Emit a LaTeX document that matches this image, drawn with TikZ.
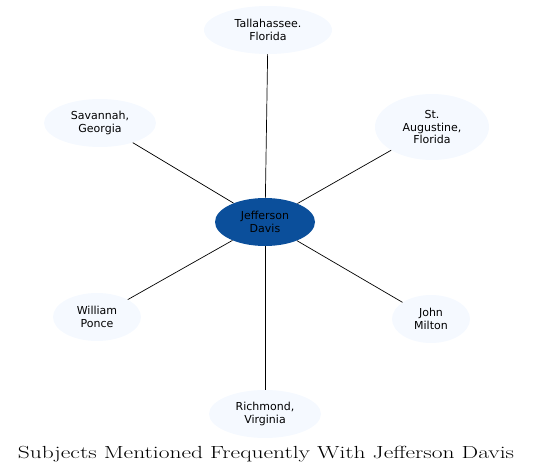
\documentclass[tikz,border=0pt]{standalone}
\usepackage{fontspec}
\usepackage{graphicx}
\newfontfamily\dejavu{DejaVu Sans}
\usetikzlibrary{shapes.geometric}
\definecolor{lightfill}{HTML}{F5F9FF}
\definecolor{centerfill}{HTML}{0B4F9B}
\tikzset{
  subj/.style={ellipse, fill=lightfill, draw=none, inner sep=0pt, align=center,
    font=\dejavu\fontsize{11}{12.8}\selectfont, text=black},
  hub/.style={subj, fill=centerfill},
  link/.style={draw=black, line width=0.7pt}
}
\begin{document}
\begin{tikzpicture}[x=1pt,y=-1pt]
\useasboundingbox (0,0) rectangle (533,476);
\node[hub, minimum width=100pt, minimum height=48pt] (jd) at (265,222) {Jefferson\\Davis};
\node[subj, minimum width=128pt, minimum height=48pt] (tal) at (268,30) {Tallahassee.\\Florida};
\node[subj, minimum width=112pt, minimum height=48pt] (sav) at (100,123) {Savannah,\\Georgia};
\node[subj, minimum width=114pt, minimum height=66pt] (sta) at (432,127) {St.\\Augustine,\\Florida};
\node[subj, minimum width=88pt, minimum height=48pt] (wp) at (97,317) {William\\Ponce};
\node[subj, minimum width=78pt, minimum height=48pt] (jm) at (431,319) {John\\Milton};
\node[subj, minimum width=112pt, minimum height=48pt] (ric) at (265,414) {Richmond,\\Virginia};
\node[inner sep=0pt] (title) at (266,454) {\scalebox{1.34}[1]{\fontsize{17.5}{20}\selectfont Subjects Mentioned Frequently With Jefferson Davis}};
\foreach \n in {tal,sav,sta,wp,jm,ric}{
  \draw[link] (jd) -- (\n);
}
\end{tikzpicture}
\end{document}
